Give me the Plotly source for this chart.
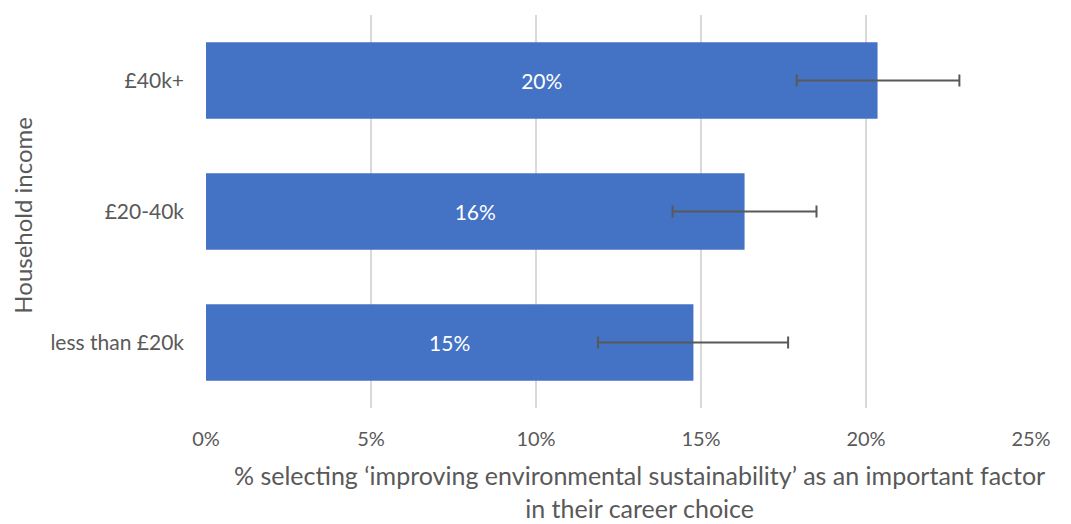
import plotly.graph_objects as go

categories = ["less than £20k", "£20-40k", "£40k+"]
values = [14.77, 16.32, 20.35]
err_low = [11.88, 14.14, 17.90]
err_high = [17.64, 18.50, 22.83]
x_ticks = [0, 5, 10, 15, 20, 25]
x_tick_labels = ["0%", "5%", "10%", "15%", "20%", "25%"]

FONT = "Lato, 'Open Sans', sans-serif"
GREY = "#595959"

fig = go.Figure()
fig.add_trace(go.Bar(
    y=categories,
    x=values,
    orientation="h",
    marker=dict(color="#4472C4", line=dict(width=0)),
    width=0.585,
    text=[f"{v:.0f}%" for v in values],
    textposition="inside",
    insidetextanchor="middle",
    textfont=dict(color="white", size=21, family=FONT),
    error_x=dict(
        type="data",
        symmetric=False,
        array=[h - v for h, v in zip(err_high, values)],
        arrayminus=[v - l for l, v in zip(err_low, values)],
        color=GREY,
        thickness=2,
        width=6,
    ),
    hoverinfo="skip",
))

# page body has an 8px margin, so the figure is shifted by 8px
fig.update_layout(
    width=1063,
    height=516,
    margin=dict(l=198, r=40, t=7, b=116, autoexpand=False),
    plot_bgcolor="white",
    paper_bgcolor="white",
    showlegend=False,
    font=dict(family=FONT, color=GREY, size=20),
    xaxis=dict(
        range=[0, 25],
        tickvals=x_ticks,
        ticktext=x_tick_labels,
        showgrid=True,
        gridcolor="#D9D9D9",
        gridwidth=1.5,
        zeroline=False,
        showline=False,
        ticks="",
        ticklabelstandoff=17,
        tickfont=dict(size=20, color=GREY),
        fixedrange=True,
    ),
    yaxis=dict(
        categoryorder="array",
        categoryarray=categories,
        showgrid=False,
        zeroline=False,
        showline=False,
        ticks="",
        ticklabelstandoff=21,
        tickfont=dict(size=21, color=GREY),
    ),
    annotations=[
        dict(
            text="% selecting ‘improving environmental sustainability’ as an important factor<br>in their career choice",
            xref="paper", yref="paper",
            x=0.526, y=-0.128,
            xanchor="center", yanchor="top",
            showarrow=False,
            font=dict(size=25, color=GREY, family=FONT),
            align="center",
        ),
        dict(
            text="Household income",
            xref="paper", yref="paper",
            x=-0.2235, y=0.491,
            xanchor="center", yanchor="middle",
            textangle=-90,
            showarrow=False,
            font=dict(size=24, color=GREY, family=FONT),
        ),
    ],
)

fig.write_html("out.html")
